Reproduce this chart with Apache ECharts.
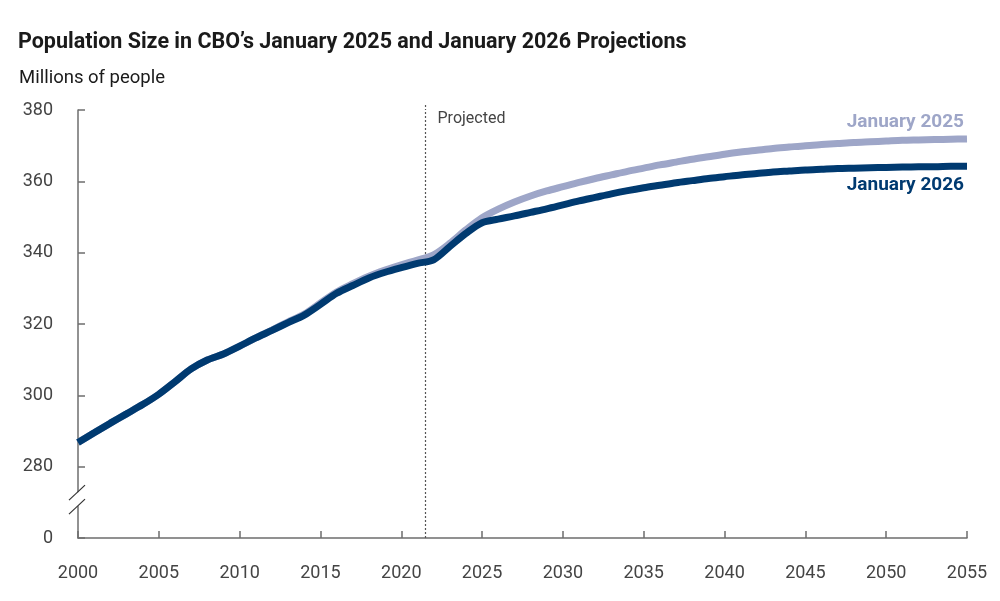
<!DOCTYPE html>
<html>
<head>
<meta charset="utf-8">
<script src="https://cdn.jsdelivr.net/npm/echarts@6/dist/echarts.min.js"></script>
<style>
  html, body { margin: 0; padding: 0; background: #fff; }
  #chart { width: 1000px; height: 601px; }
</style>
</head>
<body>
<div id="chart"></div>
<script>
const years = [];
for (let y = 2000; y <= 2055; y++) years.push(y);

const jan2026 = [
  286.8, 289.5, 292.2, 294.8, 297.4, 300.3, 303.8, 307.4, 309.9, 311.6,
  313.8, 316.1, 318.2, 320.4, 322.5, 325.5, 328.6, 330.8, 332.9, 334.5,
  335.8, 337.0, 338.0, 341.7, 345.4, 348.4, 349.4, 350.3, 351.3, 352.3,
  353.4, 354.5, 355.5, 356.5, 357.4, 358.2, 358.9, 359.6, 360.2, 360.8,
  361.3, 361.8, 362.2, 362.6, 362.9, 363.2, 363.4, 363.6, 363.7, 363.8,
  363.9, 364.0, 364.1, 364.1, 364.2, 364.2
];
const jan2025 = [
  286.8, 289.5, 292.2, 294.8, 297.4, 300.3, 303.8, 307.4, 309.9, 311.6,
  313.8, 316.1, 318.3, 320.6, 322.8, 325.9, 329.0, 331.3, 333.4, 335.1,
  336.6, 337.9, 339.4, 342.6, 346.4, 349.8, 352.2, 354.2, 355.9, 357.3,
  358.5, 359.7, 360.8, 361.8, 362.8, 363.7, 364.6, 365.4, 366.2, 366.9,
  367.6, 368.2, 368.7, 369.2, 369.6, 370.0, 370.3, 370.6, 370.9, 371.1,
  371.3, 371.5, 371.6, 371.7, 371.8, 371.9
];
const yTicks = [260, 280, 300, 320, 340, 360, 380];
const yTickLabels = ['0', '280', '300', '320', '340', '360', '380'];
const projectedStart = 2021.5;
const breakValue = 270.9;

const darkColor = '#003a70';
const lightColor = '#9ea6c8';
const axisColor = '#6e6e6e';
const textColor = '#444';

const toPair = (arr) => years.map((y, i) => [y, arr[i]]);

const chart = echarts.init(document.getElementById('chart'));
chart.setOption({
  animation: false,
  backgroundColor: '#fff',
  title: [
    {
      text: 'Population Size in CBO’s January 2025 and January 2026 Projections',
      left: 13, top: 27,
      textStyle: { fontFamily: 'Roboto, sans-serif', fontWeight: 'bold', fontSize: 21.5, color: '#1a1a1a' }
    },
    {
      text: 'Millions of people',
      left: 14, top: 64,
      textStyle: { fontFamily: 'Roboto, sans-serif', fontWeight: 'normal', fontSize: 18.5, color: '#1a1a1a' }
    }
  ],
  grid: { left: 78, right: 33, top: 110, bottom: 63, containLabel: false },
  xAxis: {
    type: 'value',
    min: 2000, max: 2055, interval: 5,
    axisLine: { show: true, lineStyle: { color: axisColor, width: 1.5 } },
    axisTick: { show: true, inside: true, length: 7, lineStyle: { color: axisColor, width: 1.5 } },
    axisLabel: { color: textColor, fontSize: 18, fontFamily: 'Roboto, sans-serif', margin: 26, formatter: (v) => String(v) },
    splitLine: { show: false }
  },
  yAxis: {
    type: 'value',
    min: 260, max: 380, interval: 20,
    axisLine: { show: true, lineStyle: { color: axisColor, width: 1.5 } },
    axisTick: { show: true, inside: true, length: 7, lineStyle: { color: axisColor, width: 1.5 } },
    axisLabel: {
      color: textColor, fontSize: 18, fontFamily: 'Roboto, sans-serif', margin: 25,
      formatter: (v) => { const i = yTicks.indexOf(v); return i >= 0 ? yTickLabels[i] : ''; }
    },
    splitLine: { show: false }
  },
  series: [
    {
      name: 'January 2025',
      type: 'line',
      data: toPair(jan2025),
      showSymbol: false,
      smooth: 0.3,
      lineStyle: { color: lightColor, width: 7, cap: 'butt' },
      z: 2
    },
    {
      name: 'January 2026',
      type: 'line',
      data: toPair(jan2026),
      showSymbol: false,
      smooth: 0.3,
      lineStyle: { color: darkColor, width: 7, cap: 'butt' },
      z: 3,
      markLine: {
        silent: true,
        symbol: 'none',
        label: { show: false },
        lineStyle: { color: '#555', type: [2, 2], width: 1.2 },
        data: [{ xAxis: projectedStart }],
        z: 1
      }
    }
  ]
});

function addGraphics() {
  const ax = chart.convertToPixel({ xAxisIndex: 0 }, 2000);
  const by = chart.convertToPixel({ yAxisIndex: 0 }, breakValue);
  const px = chart.convertToPixel({ xAxisIndex: 0 }, projectedStart);
  const topY = chart.convertToPixel({ yAxisIndex: 0 }, 380);
  const endX = chart.convertToPixel({ xAxisIndex: 0 }, years[years.length - 1]);
  const end25 = chart.convertToPixel({ yAxisIndex: 0 }, jan2025[jan2025.length - 1]);
  const end26 = chart.convertToPixel({ yAxisIndex: 0 }, jan2026[jan2026.length - 1]);
  chart.setOption({
    graphic: [
      { type: 'rect', shape: { x: ax - 3, y: by - 7, width: 6, height: 14 }, style: { fill: '#fff' }, z: 100 },
      { type: 'line', shape: { x1: ax - 9, y1: by + 1, x2: ax + 7, y2: by - 14 }, style: { stroke: '#333', lineWidth: 1.2 }, z: 101 },
      { type: 'line', shape: { x1: ax - 9, y1: by + 15, x2: ax + 7, y2: by }, style: { stroke: '#333', lineWidth: 1.2 }, z: 101 },
      { type: 'line', shape: { x1: px, y1: topY - 5, x2: px, y2: topY }, style: { stroke: '#555', lineWidth: 1.2, lineDash: [2, 2] }, z: 1 },
      { type: 'text', x: px + 12, y: topY + 9, style: { text: 'Projected', fill: '#444', font: '16px Roboto, sans-serif', textVerticalAlign: 'middle' }, z: 50 },
      { type: 'text', x: endX - 3, y: end25 - 17, style: { text: 'January 2025', fill: lightColor, font: 'bold 19px Roboto, sans-serif', textAlign: 'right', textVerticalAlign: 'middle' }, z: 50 },
      { type: 'text', x: endX - 3, y: end26 + 19, style: { text: 'January 2026', fill: darkColor, font: 'bold 19px Roboto, sans-serif', textAlign: 'right', textVerticalAlign: 'middle' }, z: 50 }
    ]
  });
}
addGraphics();
</script>
</body>
</html>
